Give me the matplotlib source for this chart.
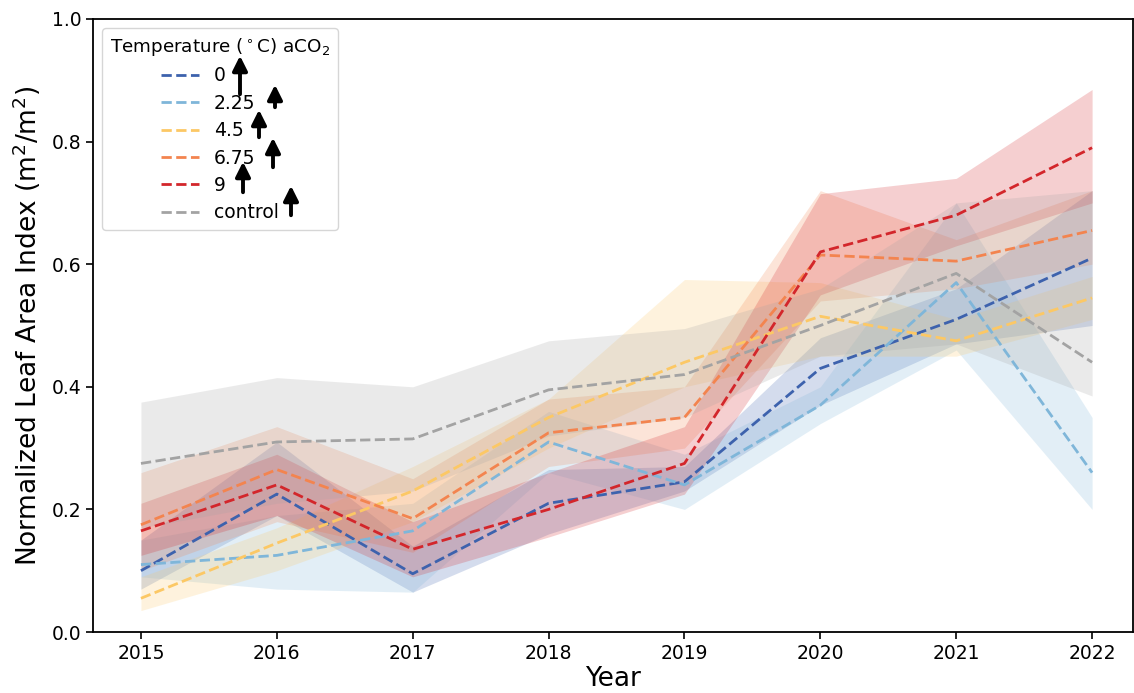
import numpy as np
import matplotlib
matplotlib.use("Agg")
import matplotlib.pyplot as plt

years = [2015, 2016, 2017, 2018, 2019, 2020, 2021, 2022]
labels = ["0", "2.25", "4.5", "6.75", "9", "control"]
colors = ["#3d62ad", "#7fb6d9", "#fcc865", "#f3844f", "#d3262b", "#a3a3a3"]

# mean lines
t0 = [0.10, 0.225, 0.095, 0.21, 0.245, 0.43, 0.51, 0.61]
t225 = [0.11, 0.125, 0.165, 0.31, 0.24, 0.37, 0.57, 0.26]
t45 = [0.055, 0.145, 0.23, 0.35, 0.44, 0.515, 0.475, 0.545]
t675 = [0.175, 0.265, 0.185, 0.325, 0.35, 0.615, 0.605, 0.655]
t9 = [0.165, 0.24, 0.135, 0.20, 0.275, 0.62, 0.68, 0.79]
ctrl = [0.275, 0.31, 0.315, 0.395, 0.42, 0.50, 0.585, 0.44]

# band limits
t0_lo = [0.07, 0.19, 0.065, 0.16, 0.23, 0.37, 0.47, 0.50]
t0_hi = [0.15, 0.31, 0.14, 0.265, 0.27, 0.48, 0.56, 0.72]
t225_lo = [0.09, 0.07, 0.065, 0.26, 0.20, 0.34, 0.46, 0.20]
t225_hi = [0.15, 0.19, 0.21, 0.36, 0.29, 0.40, 0.70, 0.35]
t45_lo = [0.035, 0.10, 0.18, 0.30, 0.40, 0.45, 0.45, 0.51]
t45_hi = [0.09, 0.17, 0.27, 0.38, 0.575, 0.57, 0.51, 0.58]
t675_lo = [0.10, 0.18, 0.13, 0.27, 0.30, 0.54, 0.56, 0.60]
t675_hi = [0.26, 0.335, 0.25, 0.38, 0.40, 0.72, 0.64, 0.72]
t9_lo = [0.125, 0.19, 0.09, 0.155, 0.225, 0.55, 0.63, 0.70]
t9_hi = [0.21, 0.29, 0.18, 0.26, 0.335, 0.715, 0.74, 0.885]
ctrl_lo = [0.17, 0.21, 0.23, 0.32, 0.35, 0.45, 0.47, 0.385]
ctrl_hi = [0.375, 0.415, 0.40, 0.475, 0.495, 0.56, 0.70, 0.72]

means = [t0, t225, t45, t675, t9, ctrl]
lows = [t0_lo, t225_lo, t45_lo, t675_lo, t9_lo, ctrl_lo]
highs = [t0_hi, t225_hi, t45_hi, t675_hi, t9_hi, ctrl_hi]

fig = plt.figure(figsize=(11.34, 6.93), dpi=100)
ax = fig.add_axes([0.082, 0.088, 0.917, 0.8846])

for m, lo, hi, c, lab in zip(means, lows, highs, colors, labels):
    ax.fill_between(years, lo, hi, color=c, alpha=0.22, lw=0)
    ax.plot(years, m, ls="--", color=c, lw=2, label=lab)

ax.set_xlim(2014.647, 2022.30)
ax.set_ylim(0, 1.0)
ax.set_xticks(years)
ax.tick_params(labelsize=13.5, length=5, width=1.2)
for s in ax.spines.values():
    s.set_linewidth(1.3)
ax.set_xlabel("Year", fontsize=19, labelpad=2)
ax.set_ylabel("Normalized Leaf Area Index (m$^2$/m$^2$)", fontsize=19, labelpad=6)

leg = ax.legend(title="Temperature ($^\\circ$C) aCO$_2$", loc="upper left",
                fontsize=13.5, title_fontsize=13.2, handlelength=2.0,
                handletextpad=0.8, borderpad=0.4, labelspacing=0.45,
                bbox_to_anchor=(0.0, 1.0))

# arrows drawn over legend
arrows = [(240, 53, 97), (275, 82, 110), (259, 107, 140),
          (273, 135, 170), (243, 159, 195), (291, 183, 218)]
for x, tip, tail in arrows:
    ax.annotate("", xy=(x, 693 - tip), xytext=(x, 693 - tail),
                xycoords="figure pixels", textcoords="figure pixels",
                arrowprops=dict(arrowstyle="-|>", color="black", lw=2.8,
                                mutation_scale=22), zorder=10)

fig.savefig("out.png", dpi=100)
